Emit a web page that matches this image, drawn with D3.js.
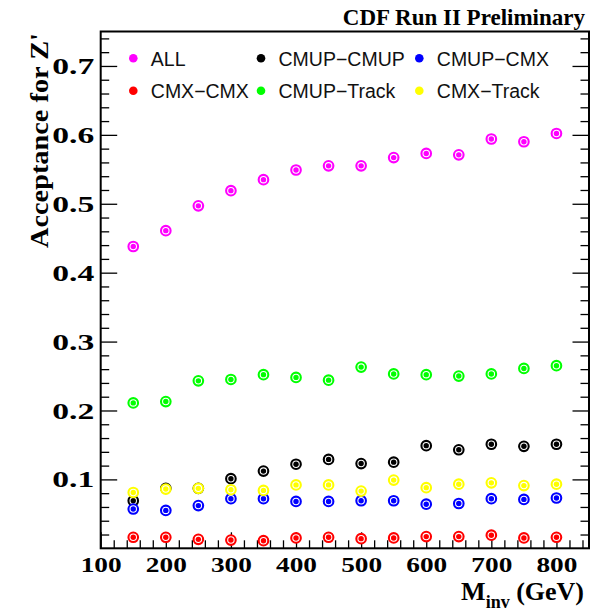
<!DOCTYPE html>
<html>
<head>
<meta charset="utf-8">
<script src="https://cdn.jsdelivr.net/npm/d3@7"></script>
<style>
  html, body { margin: 0; padding: 0; background: #fff; }
  svg { display: block; }
</style>
</head>
<body>
<svg id="chart" width="591" height="615"></svg>
<script>
// Z' acceptance vs invariant mass, per dilepton category
const masses = [150, 200, 250, 300, 350, 400, 450, 500, 550, 600, 650, 700, 750, 800];

const accAll       = [0.438, 0.461, 0.497, 0.519, 0.535, 0.549, 0.555, 0.555, 0.567, 0.573, 0.571, 0.594, 0.590, 0.602];
const accCmupCmup  = [0.069, 0.087, 0.087, 0.101, 0.112, 0.122, 0.129, 0.123, 0.125, 0.149, 0.143, 0.151, 0.148, 0.151];
const accCmupCmx   = [0.057, 0.055, 0.062, 0.072, 0.072, 0.068, 0.068, 0.069, 0.069, 0.064, 0.065, 0.072, 0.071, 0.073];
const accCmxCmx    = [0.016, 0.016, 0.013, 0.012, 0.011, 0.015, 0.016, 0.014, 0.015, 0.017, 0.017, 0.019, 0.015, 0.016];
const accCmupTrack = [0.211, 0.213, 0.243, 0.245, 0.252, 0.248, 0.244, 0.263, 0.253, 0.252, 0.250, 0.253, 0.261, 0.265];
const accCmxTrack  = [0.081, 0.086, 0.087, 0.085, 0.084, 0.092, 0.092, 0.083, 0.099, 0.088, 0.093, 0.095, 0.091, 0.093];

const seriesNames  = ["ALL", "CMUP\u2212CMUP", "CMUP\u2212CMX", "CMX\u2212CMX", "CMUP\u2212Track", "CMX\u2212Track"];
const seriesColors = ["#ff00ff", "#000000", "#0000ff", "#ff0000", "#00ff00", "#ffff00"];
const seriesValues = [accAll, accCmupCmup, accCmupCmx, accCmxCmx, accCmupTrack, accCmxTrack];

const xTickValues = [100, 200, 300, 400, 500, 600, 700, 800];
const yTickValues = [0.1, 0.2, 0.3, 0.4, 0.5, 0.6, 0.7];

const titleText  = "CDF Run II Preliminary";
const yTitleText = "Acceptance for Z'";

const svg = d3.select("#chart");
const frame = { left: 100.7, right: 589, top: 31.5, bottom: 548.3 };

const x = d3.scaleLinear().domain([100, 850]).range([frame.left, frame.right]);
const y = d3.scaleLinear().domain([0, 0.75]).range([frame.bottom, frame.top]);

const serif = "'Liberation Serif', 'Times New Roman', serif";
const sans  = "'Liberation Sans', Arial, Helvetica, sans-serif";

// minor tick positions (every 20 GeV / every 0.02)
const xMinor = d3.range(120, 850, 20).filter(v => v % 100 !== 0);
const yMinor = d3.range(1, 38).map(i => +(i * 0.02).toFixed(2)).filter(v => Math.abs(v * 10 - Math.round(v * 10)) > 1e-6);

function styleAxis(g) {
  g.select(".domain").remove();
  g.selectAll(".tick line").attr("stroke", "#000").attr("stroke-width", 1.3);
}

// bottom axis
svg.append("g").attr("transform", `translate(0,${frame.bottom})`)
  .call(d3.axisBottom(x).tickValues(xMinor).tickSize(-8).tickFormat(""))
  .call(styleAxis);
const xAx = svg.append("g").attr("transform", `translate(0,${frame.bottom})`)
  .call(d3.axisBottom(x).tickValues(xTickValues).tickSize(-16).tickFormat(d3.format("d")))
  .call(styleAxis);
xAx.selectAll(".tick text")
  .attr("y", 24).attr("dy", 0)
  .attr("font-family", serif).attr("font-weight", "bold").attr("font-size", 22)
  .attr("fill", "#000")
  .attr("textLength", 41).attr("lengthAdjust", "spacingAndGlyphs");

// left axis
svg.append("g").attr("transform", `translate(${frame.left},0)`)
  .call(d3.axisLeft(y).tickValues(yMinor).tickSize(-8.5).tickFormat(""))
  .call(styleAxis);
const yAx = svg.append("g").attr("transform", `translate(${frame.left},0)`)
  .call(d3.axisLeft(y).tickValues(yTickValues).tickSize(-16.5).tickPadding(7).tickFormat(d3.format(".1f")))
  .call(styleAxis);
yAx.selectAll(".tick text")
  .attr("x", -6.5).attr("dy", "0.33em")
  .attr("font-family", serif).attr("font-weight", "bold").attr("font-size", 23)
  .attr("fill", "#000")
  .attr("textLength", 42).attr("lengthAdjust", "spacingAndGlyphs");

// right axis ticks (no labels)
svg.append("g").attr("transform", `translate(${frame.right},0)`)
  .call(d3.axisRight(y).tickValues(yMinor).tickSize(-8.5).tickFormat(""))
  .call(styleAxis);
svg.append("g").attr("transform", `translate(${frame.right},0)`)
  .call(d3.axisRight(y).tickValues(yTickValues).tickSize(-16.5).tickFormat(""))
  .call(styleAxis);

// frame
svg.append("rect")
  .attr("x", frame.left).attr("y", frame.top)
  .attr("width", frame.right - frame.left).attr("height", frame.bottom - frame.top)
  .attr("fill", "none").attr("stroke", "#000").attr("stroke-width", 2);

// data markers: coloured ring, white gap, coloured core
seriesValues.forEach((vals, si) => {
  const g = svg.append("g").attr("class", "series");
  const pts = masses.map((m, i) => ({ m, v: vals[i] }));
  const mk = g.selectAll("g.pt").data(pts).join("g").attr("class", "pt")
    .attr("transform", d => `translate(${x(d.m)},${y(d.v)})`);
  mk.append("circle").attr("r", 4.8)
    .attr("fill", "#fff").attr("stroke", seriesColors[si]).attr("stroke-width", 2.1);
  mk.append("circle").attr("r", 2.7).attr("fill", seriesColors[si]);
});

// legend, three columns by two rows
const legCols = [133.3, 261, 419.3];
const legRows = [58.3, 90.7];
const legend = svg.append("g");
seriesNames.forEach((name, i) => {
  const cx = legCols[i % 3], cy = legRows[Math.floor(i / 3)];
  legend.append("circle").attr("cx", cx).attr("cy", cy).attr("r", 4.3).attr("fill", seriesColors[i]);
  legend.append("text").attr("x", cx + 17.5).attr("y", cy + 7.2)
    .attr("font-family", sans).attr("font-size", 19.5).attr("fill", "#111")
    .text(name);
});

// header
svg.append("text").attr("x", 585).attr("y", 25).attr("text-anchor", "end")
  .attr("font-family", serif).attr("font-weight", "bold").attr("font-size", 23)
  .attr("fill", "#000").text(titleText);

// y title
svg.append("text")
  .attr("transform", "translate(48,33) rotate(-90)")
  .attr("text-anchor", "end")
  .attr("font-family", serif).attr("font-weight", "bold").attr("font-size", 25)
  .attr("fill", "#000")
  .attr("textLength", 215).attr("lengthAdjust", "spacingAndGlyphs")
  .text(yTitleText);

// x title with subscript
const xt = svg.append("text").attr("x", 584).attr("y", 600).attr("text-anchor", "end")
  .attr("font-family", serif).attr("font-weight", "bold").attr("font-size", 26).attr("fill", "#000");
xt.append("tspan").text("M");
xt.append("tspan").attr("font-size", 18).attr("dy", 8).text("inv");
xt.append("tspan").attr("dy", -8).text(" (GeV)");
</script>
</body>
</html>
